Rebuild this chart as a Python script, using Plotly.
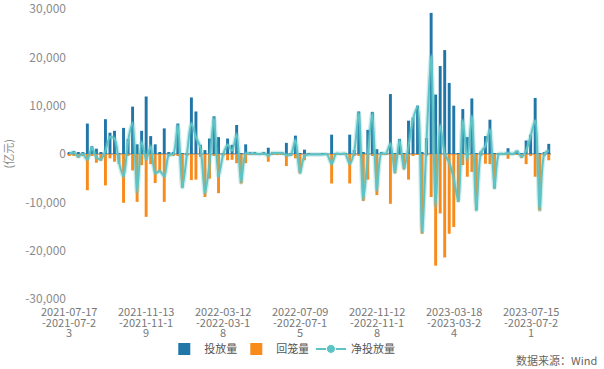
import pandas as pd
import plotly.graph_objects as go

# ---- categories (weekly Sat-Fri ranges; holiday weeks with no operations are absent) ----
week_start_first = "2021-07-17"
week_start_last = "2023-08-12"
skipped_weeks = ["2022-10-01", "2023-01-21"]

# ---- series values (亿元) ----
injection = [
    400, 600, 300, 300, 6300, 1600, 1100, 300, 7200, 4400,
    4800, 200, 5400, 3100, 9800, 2000, 4800, 11900, 3700, 2000,
    300, 5300, 300, 400, 6300, 100, 100, 11700, 8800, 1900,
    800, 3200, 7800, 3500, 200, 3200, 1900, 6000, 200, 2000,
    300, 300, 100, 300, 1300, 300, 300, 300, 2300, 200,
    3800, 100, 900, 100, 0, 0, 100, 0, 4000, 200,
    100, 200, 4000, 800, 8800, 300, 5000, 8700, 1000, 300,
    200, 12400, 200, 3100, 200, 6900, 7500, 10000, 400, 3300,
    29200, 12300, 18200, 21500, 14700, 10000, 200, 9300, 3500, 11500,
    100, 500, 3700, 7100, 200, 100, 100, 1200, 100, 700,
    200, 2800, 4000, 11600, 100, 300, 2100,
]
withdrawal = [
    -300, -300, -800, -300, -7500, -300, -1800, -1400, -6500, -900,
    -1600, -2000, -10100, -400, -3400, -9900, -2300, -13000, -2100, -6000,
    -3800, -9900, -500, -400, -400, -7000, -300, -5400, -5300, -600,
    -8900, -5100, -400, -8100, -400, -1300, -1200, -1900, -6100, -1900,
    -200, -200, -100, -200, -1600, -100, -100, -100, -2500, -300,
    -900, -4000, -1300, -200, -100, -100, -200, -100, -6100, -100,
    -100, -100, -6100, -300, -300, -9700, -5300, -300, -8500, -200,
    -100, -10300, -4000, -200, -3200, -5300, -300, -200, -16500, -400,
    -8900, -23100, -12300, -21400, -16500, -15100, -9900, -2300, -4700, -3700,
    -11700, -300, -2000, -2100, -7200, -100, -100, -1000, -100, -200,
    -800, -2100, -300, -4700, -11700, -400, -1300,
]

y_tick_values = [-30000, -20000, -10000, 0, 10000, 20000, 30000]
y_tick_labels = ["-30,000", "-20,000", "-10,000", "0", "10,000", "20,000", "30,000"]

series_names = ["投放量", "回笼量", "净投放量"]

# ---- derived ----
starts = [d for d in pd.date_range(week_start_first, week_start_last, freq="7D")
          if d.strftime("%Y-%m-%d") not in skipped_weeks]
categories = [f"{d:%Y-%m-%d}-{d + pd.Timedelta(days=6):%Y-%m-%d}" for d in starts]
net = [a + b for a, b in zip(injection, withdrawal)]

label_step = 17
tick_vals = categories[::label_step]

BLUE = "#2176a8"
ORANGE = "#f98b1d"
TEAL = "#5ec3c5"
FONT = "Noto Sans CJK SC, Noto Sans, sans-serif"

fig = go.Figure()
fig.add_trace(go.Bar(x=categories, y=injection, name=series_names[0],
                     marker=dict(color=BLUE, line=dict(width=0))))
fig.add_trace(go.Bar(x=categories, y=withdrawal, name=series_names[1],
                     marker=dict(color=ORANGE, line=dict(width=0))))
fig.add_trace(go.Scatter(x=categories, y=net, mode="lines", showlegend=False,
                         hoverinfo="skip",
                         line=dict(color="rgba(94,195,197,0.30)", width=4.5,
                                   shape="spline", smoothing=0.8)))
fig.add_trace(go.Scatter(x=categories, y=net, mode="lines", showlegend=False,
                         name=series_names[2],
                         line=dict(color=TEAL, width=2, shape="spline", smoothing=0.8)))
fig.add_trace(go.Scatter(x=[categories[0]], y=[None], mode="lines+markers",
                         name=series_names[2], legend="legend2",
                         line=dict(color=TEAL, width=2),
                         marker=dict(color=TEAL, size=9, line=dict(color="white", width=1))))

# x tick labels, wrapped in three tight lines like the original
annotations = []
line_offsets = [-12, -23, -33]   # pixels below the plot bottom (centre of each line)
for cat in tick_vals:
    parts = [cat[:10], cat[10:20], cat[20:]]
    for part, off in zip(parts, line_offsets):
        annotations.append(dict(
            text=part, xref="x", yref="paper", x=cat, y=0, yshift=off,
            showarrow=False, xanchor="center", yanchor="middle",
            font=dict(size=11, color="#777777", family=FONT)))

annotations += [
    dict(text="(亿元)", xref="paper", yref="paper", x=-0.121, y=0.5,
         textangle=-90, showarrow=False, xanchor="center", yanchor="middle",
         font=dict(size=11, color="#8c8c8c", family=FONT)),
    dict(text="数据来源：Wind", xref="paper", yref="paper", x=1.10, y=-0.21,
         showarrow=False, xanchor="right", yanchor="middle",
         font=dict(size=11, color="#666666", family=FONT)),
]

legend_common = dict(orientation="h", y=-0.172, yanchor="middle", xanchor="left",
                     font=dict(size=11, color="#555555"), traceorder="normal",
                     itemwidth=30, bgcolor="rgba(0,0,0,0)")

fig.update_layout(
    width=604, height=369,
    margin=dict(l=67, r=53, t=9, b=70, autoexpand=False),
    paper_bgcolor="white", plot_bgcolor="white",
    barmode="relative", bargap=0.35,
    font=dict(family=FONT, color="#666666"),
    showlegend=True,
    legend=dict(legend_common, x=0.201, entrywidth=27, entrywidthmode="pixels"),
    legend2=dict(legend_common, x=0.504),
    xaxis=dict(type="category", categoryorder="array", categoryarray=categories,
               range=[-0.5, len(categories) - 0.5], autorange=False,
               showticklabels=False, automargin=False,
               showgrid=False, showline=False, ticks="", zeroline=False),
    yaxis=dict(range=[-30000, 30000], autorange=False, tickmode="array",
               tickvals=y_tick_values, ticktext=y_tick_labels,
               showgrid=False, showline=False, ticks="", ticklabeloverflow="allow",
               automargin=False, zeroline=True, zerolinecolor="#b4b4b4", zerolinewidth=1.5,
               tickfont=dict(size=12, color="#8c8c8c", family=FONT)),
    annotations=annotations,
)

fig.write_html("out.html",
               config={"displayModeBar": False},
               post_script="document.body.style.margin='0';document.body.style.padding='0';")
